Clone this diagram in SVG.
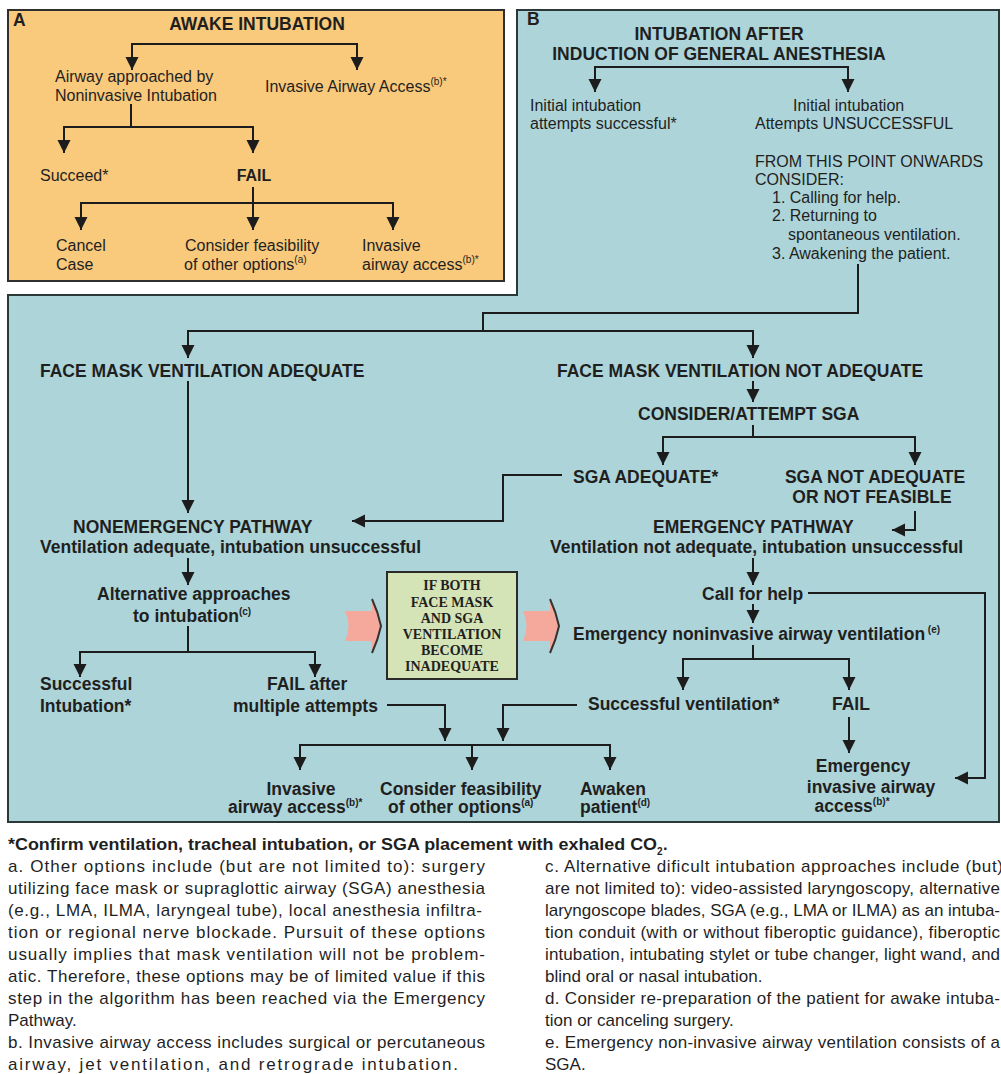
<svg xmlns="http://www.w3.org/2000/svg" width="1001" height="1074" viewBox="0 0 1001 1074">
<defs>
<marker id="ah" markerWidth="14" markerHeight="14" refX="13" refY="7" orient="auto" markerUnits="userSpaceOnUse"><path d="M0,0.5 L13,7 L0,13.5 Z" fill="#1c1c1c"/></marker>
<style>
text{font-family:"Liberation Sans",Arial,Helvetica,sans-serif;fill:#1f1f1f}
.r{font-size:16px}
.b{font-size:17.5px;font-weight:bold}
.s{font-size:10px}
.fn{font-size:17px}
.fb{font-size:16.5px;font-weight:bold}
.sub{font-size:10px;font-weight:bold}
.bx{font-family:"Liberation Serif","Times New Roman",serif;font-size:14px;font-weight:bold;text-anchor:middle}
.m{text-anchor:middle}
.c{fill:none;stroke:#1c1c1c;stroke-width:2}
.a{marker-end:url(#ah)}
.pk{fill:#F4A99C}
.pke{fill:none;stroke:#333;stroke-width:2}
</style>
</defs>
<rect width="1001" height="1074" fill="#ffffff"/>
<g id="panelA">
<rect x="8" y="10" width="496" height="271" fill="#F9C97C" stroke="#2f2f2f" stroke-width="2"/>
<text x="13" y="26" class="b">A</text>
<text x="257" y="30" class="b m">AWAKE INTUBATION</text>
</g>
<g id="panelB">
<path d="M517,10 H999 V822 H8 V295 H517 Z" fill="#ADD4D8" stroke="#2a3838" stroke-width="2"/>
<text x="527" y="25" class="b">B</text>
<text x="719" y="40" class="b m">INTUBATION AFTER</text>
<text x="719" y="60" class="b m">INDUCTION OF GENERAL ANESTHESIA</text>
</g>
<g id="connectors">
<path class="c a" d="M245,44 H132 V70"/>
<path class="c a" d="M245,44 H357 V70"/>
<path class="c a" d="M131,104 V127 H64 V153"/>
<path class="c a" d="M131,127 H253 V153"/>
<path class="c a" d="M253,187 V230"/>
<path class="c a" d="M253,203 H81 V230"/>
<path class="c a" d="M253,203 H393 V230"/>
<path class="c a" d="M720,67 H595 V92"/>
<path class="c a" d="M720,67 H848 V92"/>
<path class="c a" d="M858,264 V313 H483 V331 H188 V358"/>
<path class="c a" d="M483,331 H753 V358"/>
<path class="c a" d="M188,381 V513"/>
<path class="c a" d="M753,381 V402"/>
<path class="c a" d="M753,425 V437 H663 V465"/>
<path class="c a" d="M753,437 H915 V465"/>
<path class="c a" d="M562,475 H503 V521 H352"/>
<path class="c a" d="M915,511 V530 H892"/>
<path class="c a" d="M188,558 V585"/>
<path class="c a" d="M753,558 V585"/>
<path class="c a" d="M188,626 V652 H80 V677"/>
<path class="c a" d="M188,652 H315 V677"/>
<path class="c a" d="M808,593 H985 V778 H955"/>
<path class="c a" d="M753,604 V623"/>
<path class="c a" d="M753,645 V659 H683 V690"/>
<path class="c a" d="M753,659 H849 V690"/>
<path class="c a" d="M849,717 V753"/>
<path class="c a" d="M387,705 H445 V741"/>
<path class="c a" d="M577,705 H503 V741"/>
<path class="c a" d="M472,745 H300 V770"/>
<path class="c a" d="M472,745 H610 V770"/>
<path class="c a" d="M472,745 V770"/>
</g>
<g id="a-noninvasive"><text x="55" y="82" class="r">Airway approached by</text><text x="55" y="101" class="r">Noninvasive Intubation</text></g>
<g id="a-invasive"><text x="265" y="92" class="r">Invasive Airway Access<tspan class="s" dy="-7">(b)*</tspan></text></g>
<g id="a-succeed"><text x="40" y="181" class="r">Succeed*</text></g>
<g id="a-fail"><text x="254" y="181" class="r m" font-weight="bold">FAIL</text></g>
<g id="a-cancel"><text x="56" y="251" class="r">Cancel</text><text x="56" y="270" class="r">Case</text></g>
<g id="a-consider"><text x="185" y="251" class="r">Consider feasibility</text><text x="184" y="270" class="r">of other options<tspan class="s" dy="-7">(a)</tspan></text></g>
<g id="a-invasive2"><text x="362" y="251" class="r">Invasive</text><text x="362" y="270" class="r">airway access<tspan class="s" dy="-7">(b)*</tspan></text></g>
<g id="b-success"><text x="530" y="111" class="r">Initial intubation</text><text x="530" y="129" class="r">attempts successful*</text></g>
<g id="b-unsuccess"><text x="793" y="111" class="r">Initial intubation</text><text x="755" y="129" class="r">Attempts UNSUCCESSFUL</text></g>
<g id="b-consider"><text x="755" y="167" class="r">FROM THIS POINT ONWARDS</text><text x="755" y="185" class="r">CONSIDER:</text><text x="772" y="203" class="r">1. Calling for help.</text><text x="772" y="221" class="r">2. Returning to</text><text x="788" y="240" class="r">spontaneous ventilation.</text><text x="772" y="259" class="r">3. Awakening the patient.</text></g>
<g id="fm-adequate"><text x="40" y="377" class="b">FACE MASK VENTILATION ADEQUATE</text></g>
<g id="fm-not"><text x="557" y="377" class="b">FACE MASK VENTILATION NOT ADEQUATE</text></g>
<g id="sga-attempt"><text x="638" y="420" class="b">CONSIDER/ATTEMPT SGA</text></g>
<g id="sga-adequate"><text x="573" y="483" class="b">SGA ADEQUATE*</text></g>
<g id="sga-not"><text x="875" y="483" class="b m">SGA NOT ADEQUATE</text><text x="872" y="503" class="b m">OR NOT FEASIBLE</text></g>
<g id="nonemergency"><text x="73" y="533" class="b">NONEMERGENCY PATHWAY</text><text x="40" y="553" class="b">Ventilation adequate, intubation unsuccessful</text></g>
<g id="emergency"><text x="653" y="533" class="b">EMERGENCY PATHWAY</text><text x="550" y="553" class="b">Ventilation not adequate, intubation unsuccessful</text></g>
<g id="alternative"><text x="97" y="600" class="b">Alternative approaches</text><text x="133" y="622" class="b">to intubation<tspan class="s" dy="-7">(c)</tspan></text></g>
<g id="success-intub"><text x="40" y="690" class="b">Successful</text><text x="40" y="712" class="b">Intubation*</text></g>
<g id="fail-multi"><text x="267" y="690" class="b">FAIL after</text><text x="233" y="712" class="b">multiple attempts</text></g>
<g id="callhelp"><text x="702" y="600" class="b">Call for help</text></g>
<g id="emerg-noninv"><text x="573" y="640" class="b">Emergency noninvasive airway ventilation<tspan class="s" dy="-7"> (e)</tspan></text></g>
<g id="success-vent"><text x="588" y="710" class="b">Successful ventilation*</text></g>
<g id="fail-b"><text x="832" y="710" class="b">FAIL</text></g>
<g id="emerg-inv"><text x="863" y="772" class="b m">Emergency</text><text x="871" y="793" class="b m">invasive airway</text><text x="852" y="812" class="b m">access<tspan class="s" dy="-7">(b)*</tspan></text></g>
<g id="inv-access"><text x="301" y="795" class="b m">Invasive</text><text x="228" y="813" class="b">airway access<tspan class="s" dy="-7">(b)*</tspan></text></g>
<g id="consider-b"><text x="380" y="795" class="b">Consider feasibility</text><text x="388" y="813" class="b">of other options<tspan class="s" dy="-7">(a)</tspan></text></g>
<g id="awaken"><text x="580" y="795" class="b">Awaken</text><text x="580" y="813" class="b">patient<tspan class="s" dy="-7">(d)</tspan></text></g>
<g id="both-inadequate">
<path class="pk" d="M345,611 L372,611 L372,599 Q378,612 381,626 Q378,640 372,653 L372,641 L345,641 Q352,626 345,611 Z"/>
<path class="pke" d="M372,599 Q378,612 381,626 Q378,640 372,653"/>
<path class="pk" d="M523,611 L550,611 L550,599 Q556,612 559,626 Q556,640 550,653 L550,641 L523,641 Q530,626 523,611 Z"/>
<path class="pke" d="M550,599 Q556,612 559,626 Q556,640 550,653"/>
<rect x="387" y="572" width="130" height="107" fill="#D5E4B6" stroke="#2a2a2a" stroke-width="2"/>
<text x="452" y="590" class="bx">IF BOTH</text>
<text x="452" y="607" class="bx">FACE MASK</text>
<text x="452" y="623" class="bx">AND SGA</text>
<text x="452" y="639" class="bx">VENTILATION</text>
<text x="452" y="655" class="bx">BECOME</text>
<text x="452" y="671" class="bx">INADEQUATE</text>
</g>
<g id="footnotes">
<text x="8" y="850" class="fb" textLength="649" lengthAdjust="spacingAndGlyphs">*Confirm ventilation, tracheal intubation, or SGA placement with exhaled CO</text>
<text x="657" y="855" class="sub">2</text><text x="663" y="850" class="fb">.</text>
<text x="8" y="872" class="fn" textLength="477" lengthAdjust="spacing">a. Other options include (but are not limited to): surgery</text>
<text x="8" y="894" class="fn" textLength="477" lengthAdjust="spacing">utilizing face mask or supraglottic airway (SGA) anesthesia</text>
<text x="8" y="916" class="fn" textLength="474" lengthAdjust="spacing">(e.g., LMA, ILMA, laryngeal tube), local anesthesia infiltra-</text>
<text x="8" y="938" class="fn" textLength="477" lengthAdjust="spacing">tion or regional nerve blockade. Pursuit of these options</text>
<text x="8" y="960" class="fn" textLength="477" lengthAdjust="spacing">usually implies that mask ventilation will not be problem-</text>
<text x="8" y="982" class="fn" textLength="477" lengthAdjust="spacing">atic. Therefore, these options may be of limited value if this</text>
<text x="8" y="1004" class="fn" textLength="477" lengthAdjust="spacing">step in the algorithm has been reached via the Emergency</text>
<text x="8" y="1026" class="fn">Pathway.</text>
<text x="8" y="1048" class="fn" textLength="477" lengthAdjust="spacing">b. Invasive airway access includes surgical or percutaneous</text>
<text x="8" y="1070" class="fn" textLength="450" lengthAdjust="spacing">airway, jet ventilation, and retrograde intubation.</text>
<text x="545" y="872" class="fn" textLength="458" lengthAdjust="spacing">c. Alternative dificult intubation approaches include (but)</text>
<text x="545" y="894" class="fn" textLength="455" lengthAdjust="spacing">are not limited to): video-assisted laryngoscopy, alternative</text>
<text x="545" y="916" class="fn" textLength="455" lengthAdjust="spacing">laryngoscope blades, SGA (e.g., LMA or ILMA) as an intuba-</text>
<text x="545" y="938" class="fn" textLength="455" lengthAdjust="spacing">tion conduit (with or without fiberoptic guidance), fiberoptic</text>
<text x="545" y="960" class="fn" textLength="455" lengthAdjust="spacing">intubation, intubating stylet or tube changer, light wand, and</text>
<text x="545" y="982" class="fn">blind oral or nasal intubation.</text>
<text x="545" y="1004" class="fn" textLength="455" lengthAdjust="spacing">d. Consider re-preparation of the patient for awake intuba-</text>
<text x="545" y="1026" class="fn">tion or canceling surgery.</text>
<text x="545" y="1048" class="fn" textLength="455" lengthAdjust="spacing">e. Emergency non-invasive airway ventilation consists of a</text>
<text x="545" y="1070" class="fn">SGA.</text>
</g>
</svg>
